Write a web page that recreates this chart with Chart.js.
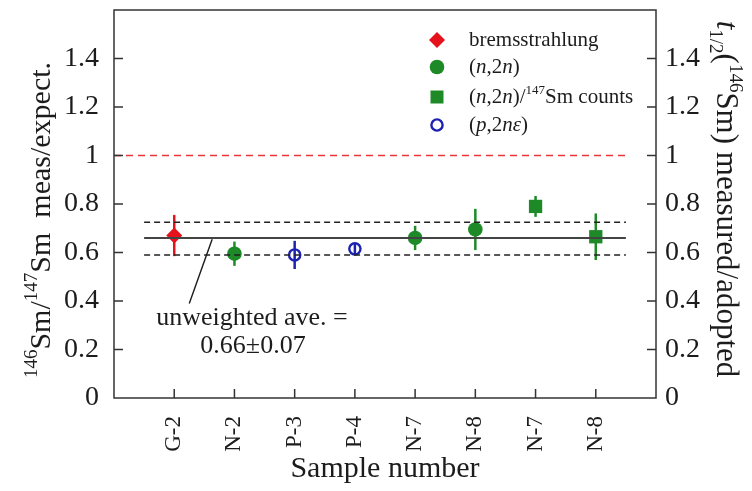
<!DOCTYPE html>
<html lang="en">
<head>
  <meta charset="UTF-8">
  <title>146Sm/147Sm meas/expect.</title>
  <script src="https://cdn.jsdelivr.net/npm/chart.js"></script>
  <style>
    html, body { margin: 0; padding: 0; background: #fff; }
    #wrap { width: 752px; height: 491px; position: relative; }
  </style>
</head>
<body>
  <div id="wrap"><canvas id="grafica"></canvas></div>
  <script>
    // sample labels along the x axis (positions 1..8)
    var sampleLabels = ['G-2', 'N-2', 'P-3', 'P-4', 'N-7', 'N-8', 'N-7', 'N-8'];

    // bremsstrahlung
    var bremsX = [1];
    var bremsY = [0.67];
    var bremsErr = [0.085];
    // (n,2n)
    var n2nX = [2, 5, 6];
    var n2nY = [0.595, 0.66, 0.695];
    var n2nErr = [0.05, 0.05, 0.085];
    // (n,2n)/147Sm counts
    var countsX = [7, 8];
    var countsY = [0.79, 0.665];
    var countsErr = [0.043, 0.096];
    // (p,2n epsilon)
    var p2nX = [3, 4];
    var p2nY = [0.59, 0.615];
    var p2nErr = [0.058, 0.021];

    // unweighted average and its band, expected ratio
    var avgValue = 0.66;
    var avgBand = [0.59, 0.725];
    var avgRange = [0.5, 8.5];
    var expectedValue = 1.0;
    var expectedRange = [0, 8.5];

    var yTicks = [0, 0.2, 0.4, 0.6, 0.8, 1.0, 1.2, 1.4];

    var serif = '"Liberation Serif", "Times New Roman", serif';
    var ink = '#1c1c1c';
    var red = '#e5121b';
    var green = '#1d8a27';
    var blue = '#1c22b0';

    function pts(xs, ys) {
      return xs.map(function (x, i) { return { x: x, y: ys[i] }; });
    }

    // texto con superindices / subindices / cursiva
    function drawRich(ctx, parts, x, y, size, align) {
      var small = Math.round(size * 0.62);
      function fontOf(p) {
        var s = p[1] || '';
        var sz = (s.indexOf('sup') >= 0 || s.indexOf('sub') >= 0) ? small : size;
        return (s.indexOf('i') === 0 ? 'italic ' : '') + sz + 'px ' + serif;
      }
      var w = 0;
      parts.forEach(function (p) { ctx.font = fontOf(p); w += ctx.measureText(p[0]).width; });
      var cx = align === 'center' ? x - w / 2 : (align === 'right' ? x - w : x);
      ctx.textAlign = 'left';
      ctx.textBaseline = 'alphabetic';
      parts.forEach(function (p) {
        var s = p[1] || '';
        ctx.font = fontOf(p);
        var dy = s.indexOf('sup') >= 0 ? -size * 0.42 : (s.indexOf('sub') >= 0 ? size * 0.22 : 0);
        ctx.fillText(p[0], cx, y + dy);
        cx += ctx.measureText(p[0]).width;
      });
    }

    function marker(ctx, kind, x, y) {
      ctx.save();
      ctx.beginPath();
      if (kind === 'diamond') {
        ctx.fillStyle = red;
        ctx.moveTo(x, y - 8); ctx.lineTo(x + 8, y); ctx.lineTo(x, y + 8); ctx.lineTo(x - 8, y); ctx.closePath();
        ctx.fill();
      } else if (kind === 'circle') {
        ctx.fillStyle = green;
        ctx.arc(x, y, 7.3, 0, Math.PI * 2); ctx.fill();
      } else if (kind === 'square') {
        ctx.fillStyle = green;
        ctx.rect(x - 6.5, y - 6.5, 13, 13); ctx.fill();
      } else {
        ctx.strokeStyle = blue; ctx.lineWidth = 2.4;
        ctx.arc(x, y, 5.6, 0, Math.PI * 2); ctx.stroke();
      }
      ctx.restore();
    }

    var errorBars = {
      id: 'errorBars',
      beforeDatasetsDraw: function (chart) {
        var ctx = chart.ctx, xs = chart.scales.x, ys = chart.scales.y;
        var groups = [
          [bremsX, bremsY, bremsErr, red],
          [n2nX, n2nY, n2nErr, green],
          [countsX, countsY, countsErr, green],
          [p2nX, p2nY, p2nErr, blue]
        ];
        ctx.save();
        ctx.lineWidth = 2.5;
        groups.forEach(function (g) {
          ctx.strokeStyle = g[3];
          g[0].forEach(function (x, i) {
            var px = xs.getPixelForValue(x);
            ctx.beginPath();
            ctx.moveTo(px, ys.getPixelForValue(g[1][i] - g[2][i]));
            ctx.lineTo(px, ys.getPixelForValue(g[1][i] + g[2][i]));
            ctx.stroke();
          });
        });
        ctx.restore();
      }
    };

    var decor = {
      id: 'decor',
      afterDraw: function (chart) {
        var ctx = chart.ctx, a = chart.chartArea, xs = chart.scales.x, ys = chart.scales.y;
        ctx.save();
        // marco y ticks hacia dentro
        ctx.strokeStyle = '#333';
        ctx.lineWidth = 1.5;
        ctx.strokeRect(a.left, a.top, a.right - a.left, a.bottom - a.top);
        ctx.beginPath();
        yTicks.forEach(function (v) {
          if (v === 0) return;
          var py = ys.getPixelForValue(v);
          ctx.moveTo(a.left, py); ctx.lineTo(a.left + 9, py);
          ctx.moveTo(a.right, py); ctx.lineTo(a.right - 9, py);
        });
        sampleLabels.forEach(function (l, i) {
          var px = xs.getPixelForValue(i + 1);
          ctx.moveTo(px, a.bottom); ctx.lineTo(px, a.bottom - 9);
        });
        ctx.stroke();

        // linea hacia la anotacion
        ctx.strokeStyle = ink;
        ctx.lineWidth = 1.4;
        ctx.beginPath();
        ctx.moveTo(xs.getPixelForValue(1.63), ys.getPixelForValue(0.655));
        ctx.lineTo(xs.getPixelForValue(1.25), ys.getPixelForValue(0.39));
        ctx.stroke();

        ctx.fillStyle = ink;
        ctx.font = '26px ' + serif;
        ctx.textAlign = 'center';
        ctx.textBaseline = 'middle';
        ctx.fillText('unweighted ave. =', 252, 318);
        ctx.fillText('0.66\u00b10.07', 253, 346);

        // leyenda
        var lx = 437, tx = 469;
        var rows = [40, 67, 97, 125];
        marker(ctx, 'diamond', lx, rows[0]);
        marker(ctx, 'circle', lx, rows[1]);
        marker(ctx, 'square', lx, rows[2]);
        marker(ctx, 'open', lx, rows[3]);
        ctx.fillStyle = ink;
        drawRich(ctx, [['bremsstrahlung']], tx, rows[0] + 6, 21, 'left');
        drawRich(ctx, [['('], ['n', 'i'], [',2'], ['n', 'i'], [')']], tx, rows[1] + 6, 21, 'left');
        drawRich(ctx, [['('], ['n', 'i'], [',2'], ['n', 'i'], [')/'], ['147', 'sup'], ['Sm counts']], tx, rows[2] + 6, 21, 'left');
        drawRich(ctx, [['('], ['p', 'i'], [',2'], ['n\u03b5', 'i'], [')']], tx, rows[3] + 6, 21, 'left');

        // titulos de los ejes verticales
        ctx.save();
        ctx.translate(50, 220);
        ctx.rotate(-Math.PI / 2);
        drawRich(ctx, [['146', 'sup'], ['Sm/'], ['147', 'sup'], ['Sm  meas/expect.']], 0, 0, 30, 'center');
        ctx.restore();

        ctx.save();
        ctx.translate(717, 199);
        ctx.rotate(Math.PI / 2);
        drawRich(ctx, [['t', 'i'], ['1/2', 'sub'], ['('], ['146', 'sup'], ['Sm) measured/adopted']], 0, 0, 31, 'center');
        ctx.restore();

        ctx.restore();
      }
    };

    function tickLabel(v) {
      var r = Math.round(v * 10) / 10;
      return yTicks.indexOf(r) >= 0 ? String(r) : '';
    }

    function noPad(s) {
      s.paddingTop = 0; s.paddingBottom = 0; s.paddingLeft = 0; s.paddingRight = 0;
    }

    var grafica = new Chart(document.getElementById('grafica'), {
      type: 'scatter',
      data: {
        datasets: [
          {
            type: 'line', label: 'expected',
            data: [{ x: expectedRange[0], y: expectedValue }, { x: expectedRange[1], y: expectedValue }],
            borderColor: '#e8373a', borderWidth: 1.5, borderDash: [7, 5], pointRadius: 0, fill: false
          },
          {
            type: 'line', label: 'average',
            data: [{ x: avgRange[0], y: avgValue }, { x: avgRange[1], y: avgValue }],
            borderColor: '#444', borderWidth: 2, pointRadius: 0, fill: false
          },
          {
            type: 'line', label: 'upper',
            data: [{ x: avgRange[0], y: avgBand[1] }, { x: avgRange[1], y: avgBand[1] }],
            borderColor: '#222', borderWidth: 1.5, borderDash: [6, 4], pointRadius: 0, fill: false
          },
          {
            type: 'line', label: 'lower',
            data: [{ x: avgRange[0], y: avgBand[0] }, { x: avgRange[1], y: avgBand[0] }],
            borderColor: '#222', borderWidth: 1.5, borderDash: [6, 4], pointRadius: 0, fill: false
          },
          {
            label: 'bremsstrahlung', data: pts(bremsX, bremsY),
            pointStyle: 'rectRot', pointRadius: 8, backgroundColor: red, borderColor: red, borderWidth: 0
          },
          {
            label: '(n,2n)', data: pts(n2nX, n2nY),
            pointStyle: 'circle', pointRadius: 7.3, backgroundColor: green, borderColor: green, borderWidth: 0
          },
          {
            label: '(n,2n)/147Sm counts', data: pts(countsX, countsY),
            pointStyle: 'rect', pointRadius: 9.4, backgroundColor: green, borderColor: green, borderWidth: 0
          },
          {
            label: '(p,2n\u03b5)', data: pts(p2nX, p2nY),
            pointStyle: 'circle', pointRadius: 5.6, backgroundColor: 'rgba(0,0,0,0)', borderColor: blue, borderWidth: 2.4
          }
        ]
      },
      options: {
        responsive: true,
        maintainAspectRatio: false,
        animation: false,
        events: [],
        layout: { padding: { top: 10, left: 0, right: 0, bottom: 0 } },
        plugins: { legend: { display: false }, tooltip: { enabled: false } },
        scales: {
          x: {
            type: 'linear', min: 0, max: 9,
            grid: { display: false }, border: { display: false },
            afterFit: function (s) { s.height = 93; noPad(s); },
            afterBuildTicks: function (s) {
              s.ticks = sampleLabels.map(function (l, i) { return { value: i + 1 }; });
            },
            ticks: {
              autoSkip: false, minRotation: 90, maxRotation: 90, padding: 10,
              color: ink, font: { family: serif, size: 23 },
              callback: function (v) { return sampleLabels[v - 1] || ''; }
            },
            title: {
              display: true, text: 'Sample number', color: ink,
              font: { family: serif, size: 30 }, padding: { top: 0, bottom: 4 }
            }
          },
          y: {
            position: 'left', min: 0, max: 1.6,
            grid: { display: false }, border: { display: false },
            afterFit: function (s) { s.width = 114; noPad(s); },
            ticks: { stepSize: 0.2, padding: 7, color: ink, font: { family: serif, size: 28 }, callback: tickLabel }
          },
          y2: {
            position: 'right', min: 0, max: 1.6,
            grid: { display: false }, border: { display: false },
            afterFit: function (s) { s.width = 96; noPad(s); },
            ticks: { stepSize: 0.2, padding: 1, color: ink, font: { family: serif, size: 28 }, callback: tickLabel }
          }
        }
      },
      plugins: [errorBars, decor]
    });
  </script>
</body>
</html>
